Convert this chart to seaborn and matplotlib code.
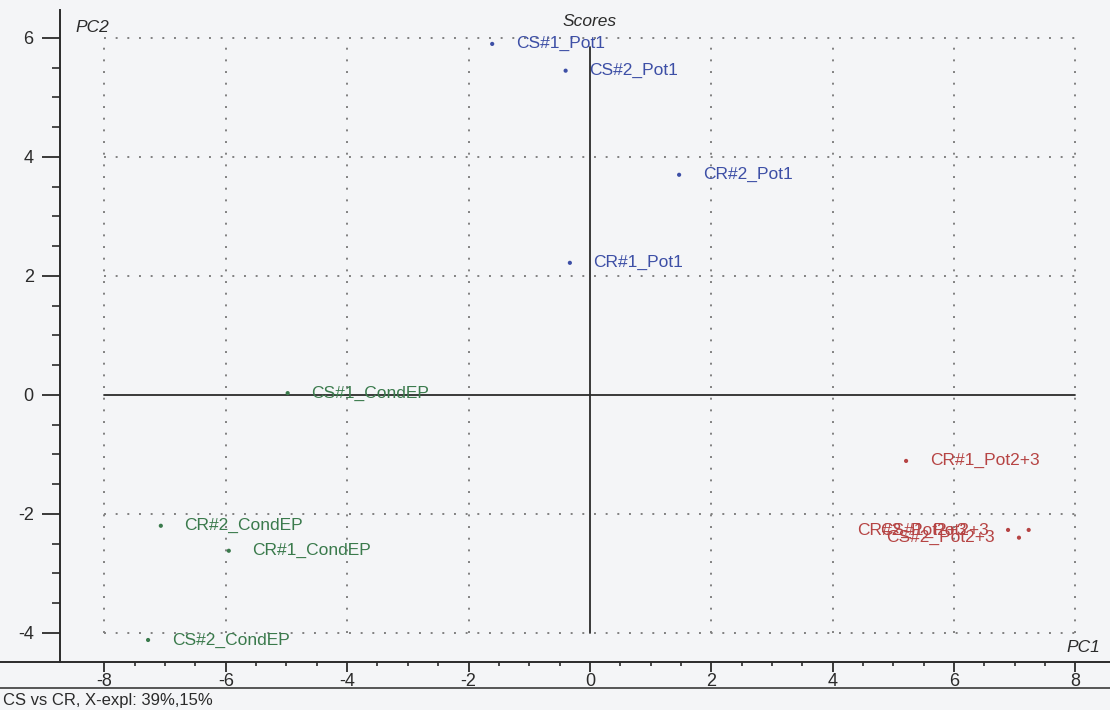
import matplotlib
matplotlib.use("Agg")
import matplotlib.pyplot as plt
import seaborn as sns
import pandas as pd
import numpy as np

# ---- data ----
names = ["CS#1_Pot1", "CS#2_Pot1", "CR#2_Pot1", "CR#1_Pot1",
         "CS#1_CondEP", "CR#2_CondEP", "CR#1_CondEP", "CS#2_CondEP",
         "CR#1_Pot2+3", "CR#2_Pot2+3", "CS#1_Pot2+3", "CS#2_Pot2+3"]
pc1 = [-1.61, -0.40, 1.47, -0.33,
       -4.98, -7.07, -5.95, -7.28,
       5.21, 6.89, 7.23, 7.07]
pc2 = [5.90, 5.45, 3.70, 2.22,
       0.03, -2.20, -2.62, -4.12,
       -1.11, -2.27, -2.27, -2.40]
groups = ["Pot1"] * 4 + ["CondEP"] * 4 + ["Pot2+3"] * 4
x_ticks = [-8, -6, -4, -2, 0, 2, 4, 6, 8]
y_ticks = [-4, -2, 0, 2, 4, 6]
title = "Scores"
footer = "CS vs CR, X-expl: 39%,15%"

df = pd.DataFrame({"name": names, "PC1": pc1, "PC2": pc2, "group": groups})

# ---- styles ----
palette = {"Pot1": "#3d4fa6", "CondEP": "#3a7a4c", "Pot2+3": "#b64444"}
label_offsets = {"CR#2_Pot2+3": (-30, 0, "right"),
                 "CS#1_Pot2+3": (-29, 0, "right"),
                 "CS#2_Pot2+3": (-17.5, 0, "right")}
bg = "#f4f5f7"
axcol = "#2b2b2b"

sns.set_style("white")
plt.rcParams["font.family"] = ["Liberation Sans", "DejaVu Sans"]
plt.rcParams["axes.unicode_minus"] = False

fig = plt.figure(figsize=(11.1, 7.1), dpi=100, facecolor=bg)
ax = fig.add_axes([0, (710 - 662) / 710, 1, (662 - 10) / 710])
ax.set_facecolor(bg)
ax.set_xlim(-9.72, 8.57)
ax.set_ylim(-4.49, 6.47)

# dotted grid within tick range
for xv in x_ticks:
    if xv != 0:
        ax.plot([xv, xv], [y_ticks[0], y_ticks[-1]], color="#808080",
                lw=1.4, ls=(0, (1, 5)), zorder=1)
for yv in y_ticks:
    if yv != 0:
        ax.plot([x_ticks[0], x_ticks[-1]], [yv, yv], color="#808080",
                lw=1.4, ls=(0, (1, 5)), zorder=1)
# reference axes
ax.plot([0, 0], [y_ticks[0], 5.85], color=axcol, lw=1.3, zorder=2)
ax.plot([x_ticks[0], x_ticks[-1]], [0, 0], color=axcol, lw=1.3, zorder=2)

sns.scatterplot(data=df, x="PC1", y="PC2", hue="group", palette=palette,
                s=9, linewidth=0, legend=False, ax=ax, zorder=3)

for _, r in df.iterrows():
    dx, dy, ha = label_offsets.get(r["name"], (17, 0, "left"))
    ax.annotate(r["name"], (r["PC1"], r["PC2"]), xytext=(dx, dy),
                textcoords="offset points", ha=ha, va="center",
                fontsize=12.5, color=palette[r["group"]], zorder=4)

# spines / ticks
for s in ["top", "right"]:
    ax.spines[s].set_visible(False)
ax.spines["left"].set_position(("data", -8.73))
ax.spines["left"].set_color(axcol)
ax.spines["bottom"].set_color(axcol)
ax.spines["left"].set_linewidth(1.4)
ax.spines["bottom"].set_linewidth(1.4)
ax.set_xticks(x_ticks)
ax.set_yticks(y_ticks)
ax.set_xticks(np.arange(-8, 8.01, 0.5), minor=True)
ax.set_yticks(np.arange(-4, 6.01, 0.5), minor=True)
ax.tick_params(axis="x", which="both", bottom=True, top=False)
ax.tick_params(axis="y", which="both", left=True, right=False)
ax.tick_params(axis="x", which="major", direction="out", length=7, width=1.3,
               colors=axcol, labelsize=13, pad=1)
ax.tick_params(axis="x", which="minor", direction="out", length=3, width=1.2,
               colors=axcol)
ax.tick_params(axis="y", which="major", direction="out", length=13, width=1.3,
               colors=axcol, labelsize=13, pad=6)
ax.tick_params(axis="y", which="minor", direction="out", length=6, width=1.2,
               colors=axcol)
ax.set_xlabel("")
ax.set_ylabel("")

fig.text(75 / 1110, 1 - 27 / 710, "PC2", fontsize=12.5, style="italic",
         color=axcol, ha="left", va="center")
fig.text(1100 / 1110, 1 - 648 / 710, "PC1", fontsize=12.5, style="italic",
         color=axcol, ha="right", va="center")
fig.text(590 / 1110, 1 - 22 / 710, title, fontsize=12.5, style="italic",
         color=axcol, ha="center", va="center")

# footer line and text
fig.add_artist(plt.Line2D([0, 1], [1 - 688 / 710] * 2, color="#555555",
                          lw=1.4, transform=fig.transFigure))
fig.text(3 / 1110, 1 - 700 / 710, footer, fontsize=12, color=axcol,
         ha="left", va="center")

fig.savefig("out.png", dpi=100, facecolor=bg)
